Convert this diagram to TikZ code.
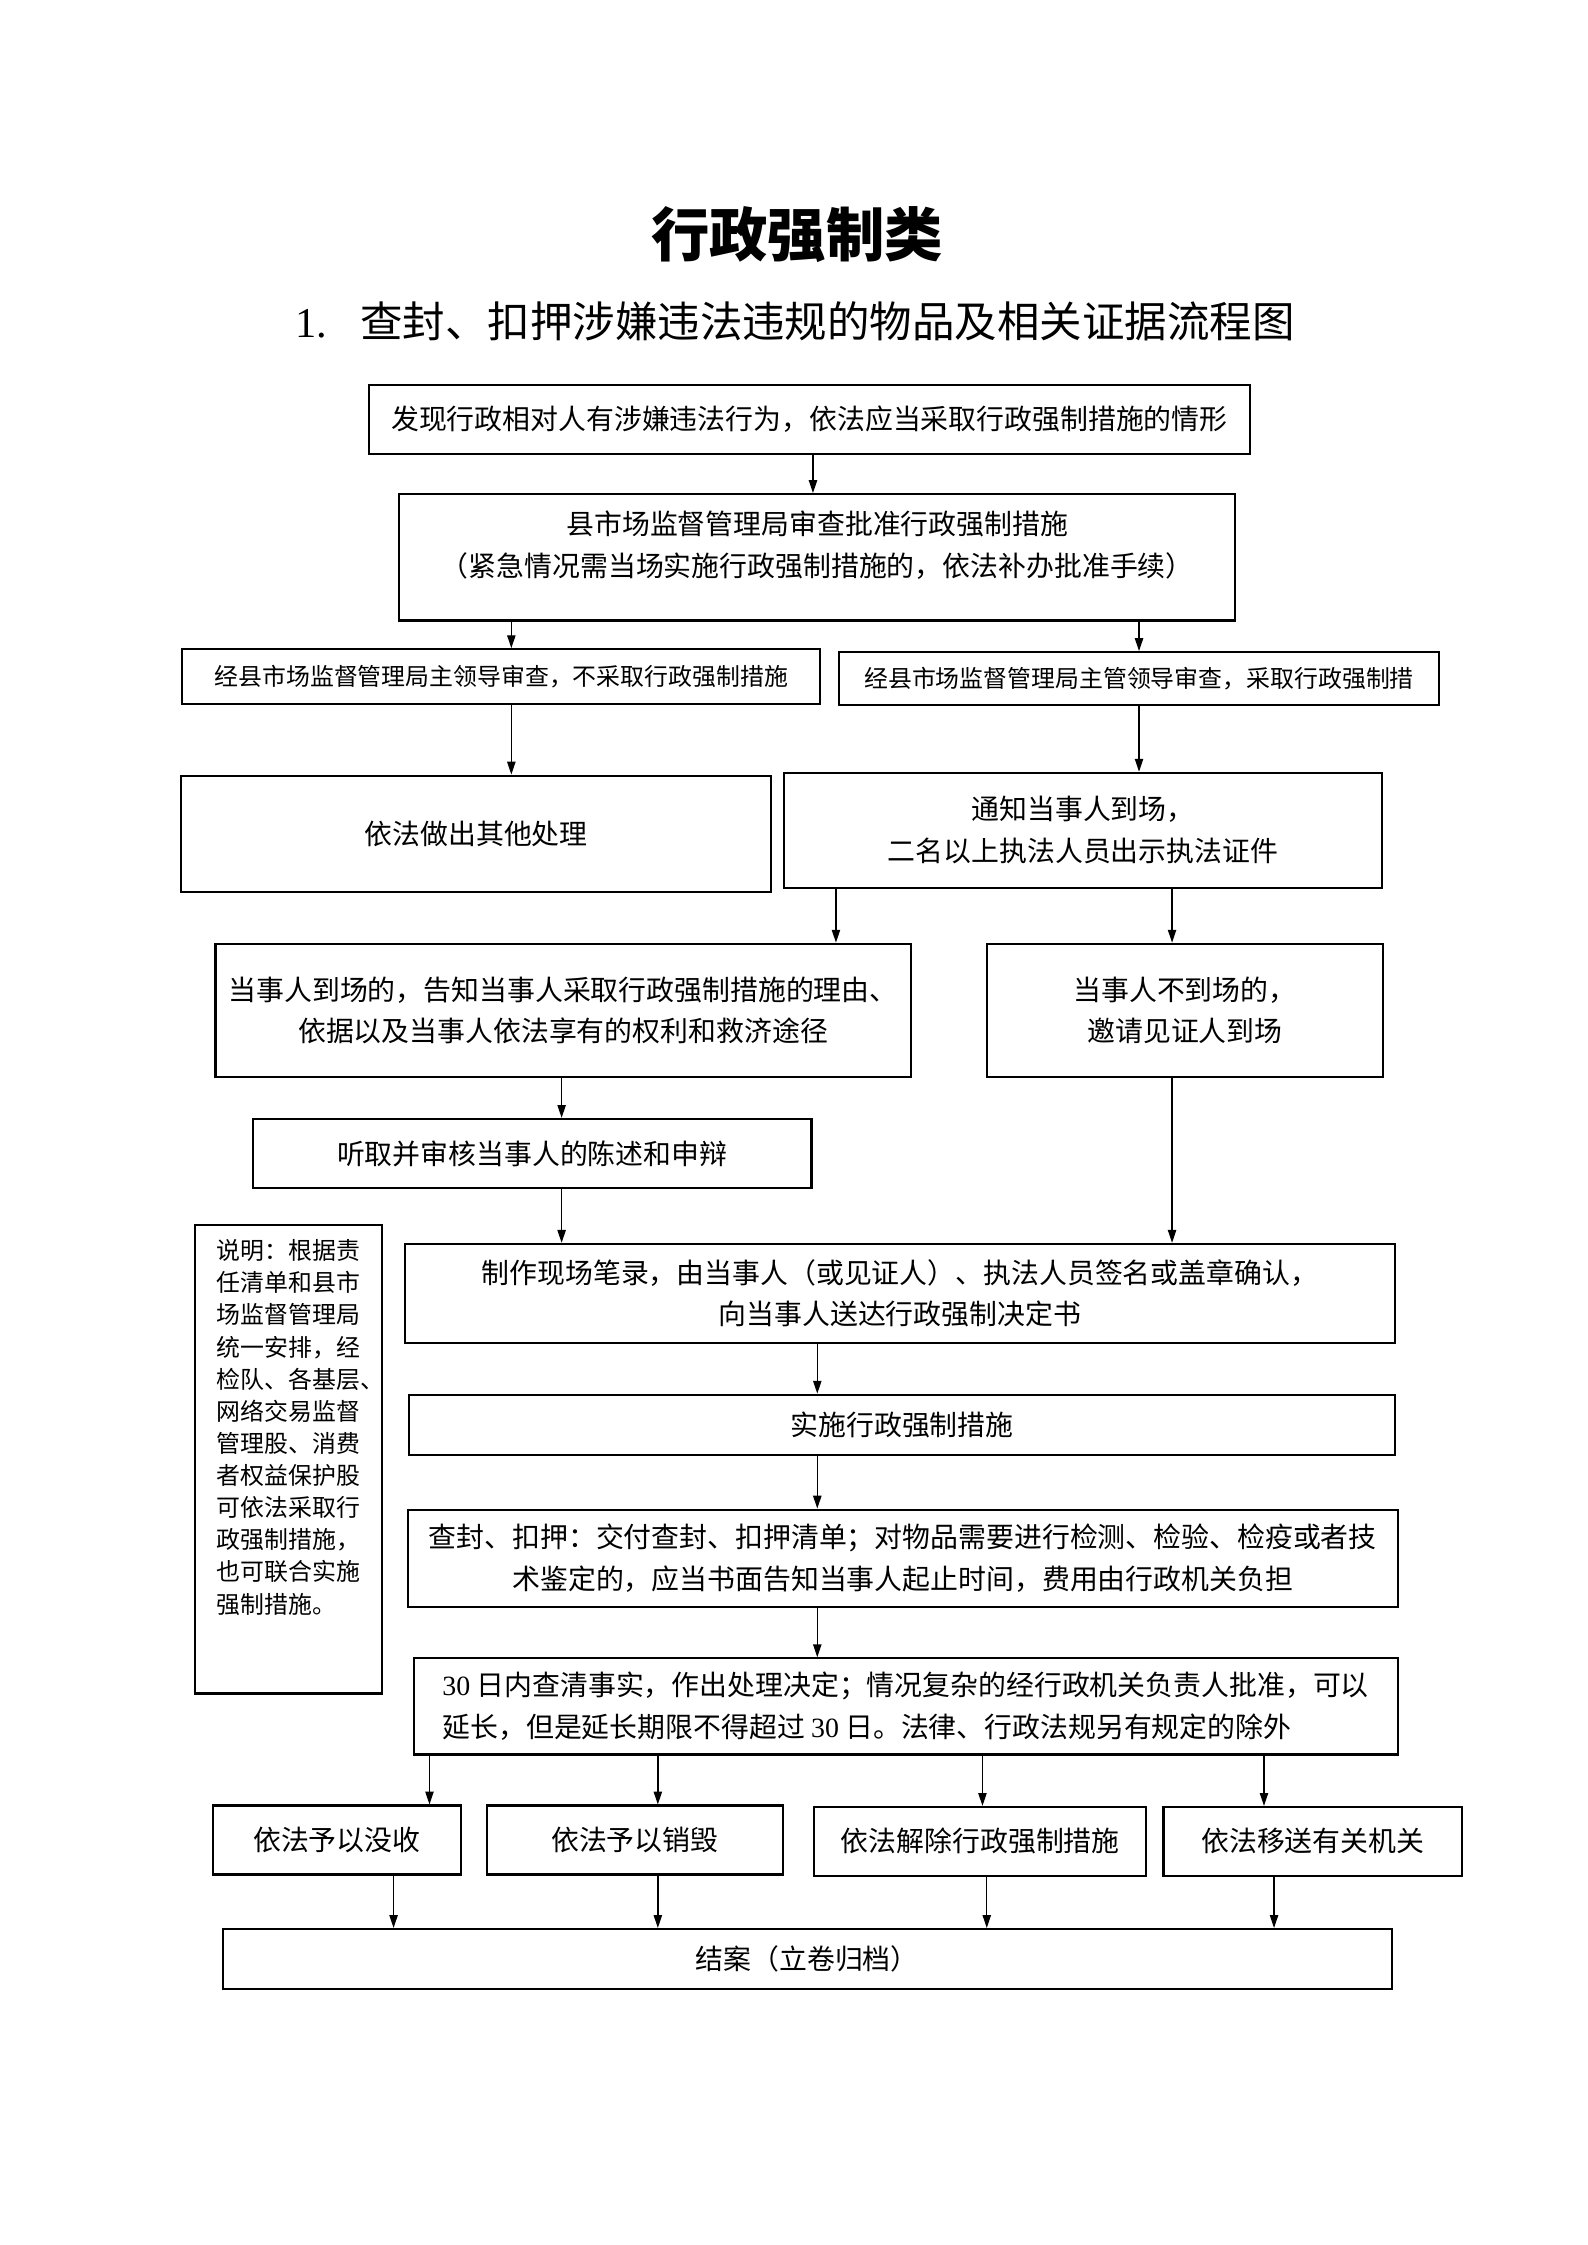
\documentclass[tikz,border=0pt]{standalone}
\usepackage{fontspec}
\setmainfont{Noto Sans CJK SC}
\newfontfamily\latinfont{Liberation Serif}
\usetikzlibrary{arrows.meta}
\newdimen\unitpx \unitpx=0.019005cm
\tikzset{
  box/.style={draw, line width=0.8pt, inner sep=0pt, align=center,
    font=\fontsize{10.5}{15.7}\selectfont},
  small/.style={font=\fontsize{9}{12.1}\selectfont},
  wh/.style 2 args={minimum width=#1*\unitpx, minimum height=#2*\unitpx},
  arr/.style={line width=0.5pt, -{Triangle[length=1.7mm,width=1.1mm]}},
}
\begin{document}
\begin{tikzpicture}[x=0.019005cm, y=-0.019005cm]
  \useasboundingbox (0,0) rectangle (1105,1563);

  \node (title)    at (555,163)   {\fontsize{22}{26}\selectfont\bfseries 行政强制类};
  \node (subtitle) at (553.5,224) {\fontsize{16}{19}\selectfont{\latinfont 1.}\hspace{23\unitpx}查封、扣押涉嫌违法违规的物品及相关证据流程图};

  \node (find)     at (563.5,292)  [box, wh={613}{48}] {发现行政相对人有涉嫌违法行为，依法应当采取行政强制措施的情形};
  \node (approve)  at (569,388)    [box, wh={582}{88}] {\parbox[c][88\unitpx][t]{582\unitpx}{\centering\vspace*{12\unitpx}%
    县市场监督管理局审查批准行政强制措施\\（紧急情况需当场实施行政强制措施的，依法补办批准手续）}};

  \node (nolift)   at (349,471)    [box, small, wh={444}{38}] {经县市场监督管理局主领导审查，不采取行政强制措施};
  \node (lift)     at (793,472.5)  [box, small, wh={418}{37}] {经县市场监督管理局主管领导审查，采取行政强制措};

  \node (other)    at (331.5,580.5) [box, wh={411}{81}] {依法做出其他处理};
  \node (notify)   at (754,578)     [box, wh={416}{80}] {通知当事人到场，\\二名以上执法人员出示执法证件};

  \node (present)  at (392,703.5)  [box, wh={484}{93}] {当事人到场的，告知当事人采取行政强制措施的理由、\\依据以及当事人依法享有的权利和救济途径};
  \node (absent)   at (825,703.5)  [box, wh={276}{93}] {当事人不到场的，\\邀请见证人到场};

  \node (hear)     at (370.5,803)  [box, wh={389}{48}] {听取并审核当事人的陈述和申辩};

  \node (note)     at (201,1016)   [box, small, wh={130}{326}] {\parbox[c][326\unitpx][t]{130\unitpx}{\raggedright\leftskip=15\unitpx\vspace*{10\unitpx}%
    说明：根据责\\任清单和县市\\场监督管理局\\统一安排，经\\检队、各基层、\\网络交易监督\\管理股、消费\\者权益保护股\\可依法采取行\\政强制措施，\\也可联合实施\\强制措施。}};

  \node (record)   at (626.5,900.5) [box, wh={689}{69}] {制作现场笔录，由当事人（或见证人）、执法人员签名或盖章确认，\\向当事人送达行政强制决定书};
  \node (enforce)  at (628,992)     [box, wh={686}{42}] {实施行政强制措施};
  \node (seal)     at (628.5,1085)  [box, wh={689}{68}] {查封、扣押：交付查封、扣押清单；对物品需要进行检测、检验、检疫或者技\\术鉴定的，应当书面告知当事人起止时间，费用由行政机关负担};
  \node (decide)   at (630.5,1188)  [box, align=left, wh={685}{67}] {{\latinfont 30} 日内查清事实，作出处理决定；情况复杂的经行政机关负责人批准，可以\\延长，但是延长期限不得超过 {\latinfont 30} 日。法律、行政法规另有规定的除外};

  \node (confisc)  at (234.5,1281) [box, wh={173}{48}] {依法予以没收};
  \node (destroy)  at (442,1281)   [box, wh={206}{48}] {依法予以销毁};
  \node (release)  at (682.5,1282) [box, wh={231}{48}] {依法解除行政强制措施};
  \node (transfer) at (914,1282)   [box, wh={208}{48}] {依法移送有关机关};

  \node (close)    at (562,1364)   [box, wh={814}{42}] {结案（立卷归档）};

  \coordinate (c1) at (566,0);
  \coordinate (c2) at (356,0);
  \coordinate (c3) at (793,0);
  \coordinate (c4) at (582,0);
  \coordinate (c5) at (816,0);
  \coordinate (c6) at (391,0);
  \coordinate (c7) at (569,0);
  \coordinate (d1) at (299,0);
  \coordinate (d2) at (458,0);
  \coordinate (d3) at (684,0);
  \coordinate (d4) at (880,0);
  \coordinate (e1) at (274,0);
  \coordinate (e2) at (458,0);
  \coordinate (e3) at (687,0);
  \coordinate (e4) at (887,0);

  \draw[arr] (find.south -| c1) -- (approve.north -| c1);
  \draw[arr] (approve.south -| c2) -- (nolift.north -| c2);
  \draw[arr] (approve.south -| c3) -- (lift.north -| c3);
  \draw[arr] (nolift.south -| c2) -- (other.north -| c2);
  \draw[arr] (lift.south -| c3) -- (notify.north -| c3);
  \draw[arr] (notify.south -| c4) -- (present.north -| c4);
  \draw[arr] (notify.south -| c5) -- (absent.north -| c5);
  \draw[arr] (present.south -| c6) -- (hear.north -| c6);
  \draw[arr] (hear.south -| c6) -- (record.north -| c6);
  \draw[arr] (absent.south -| c5) -- (record.north -| c5);
  \draw[arr] (record.south -| c7) -- (enforce.north -| c7);
  \draw[arr] (enforce.south -| c7) -- (seal.north -| c7);
  \draw[arr] (seal.south -| c7) -- (decide.north -| c7);

  \draw[arr] (decide.south -| d1) -- (confisc.north -| d1);
  \draw[arr] (decide.south -| d2) -- (destroy.north -| d2);
  \draw[arr] (decide.south -| d3) -- (release.north -| d3);
  \draw[arr] (decide.south -| d4) -- (transfer.north -| d4);

  \draw[arr] (confisc.south -| e1) -- (close.north -| e1);
  \draw[arr] (destroy.south -| e2) -- (close.north -| e2);
  \draw[arr] (release.south -| e3) -- (close.north -| e3);
  \draw[arr] (transfer.south -| e4) -- (close.north -| e4);
\end{tikzpicture}
\end{document}
